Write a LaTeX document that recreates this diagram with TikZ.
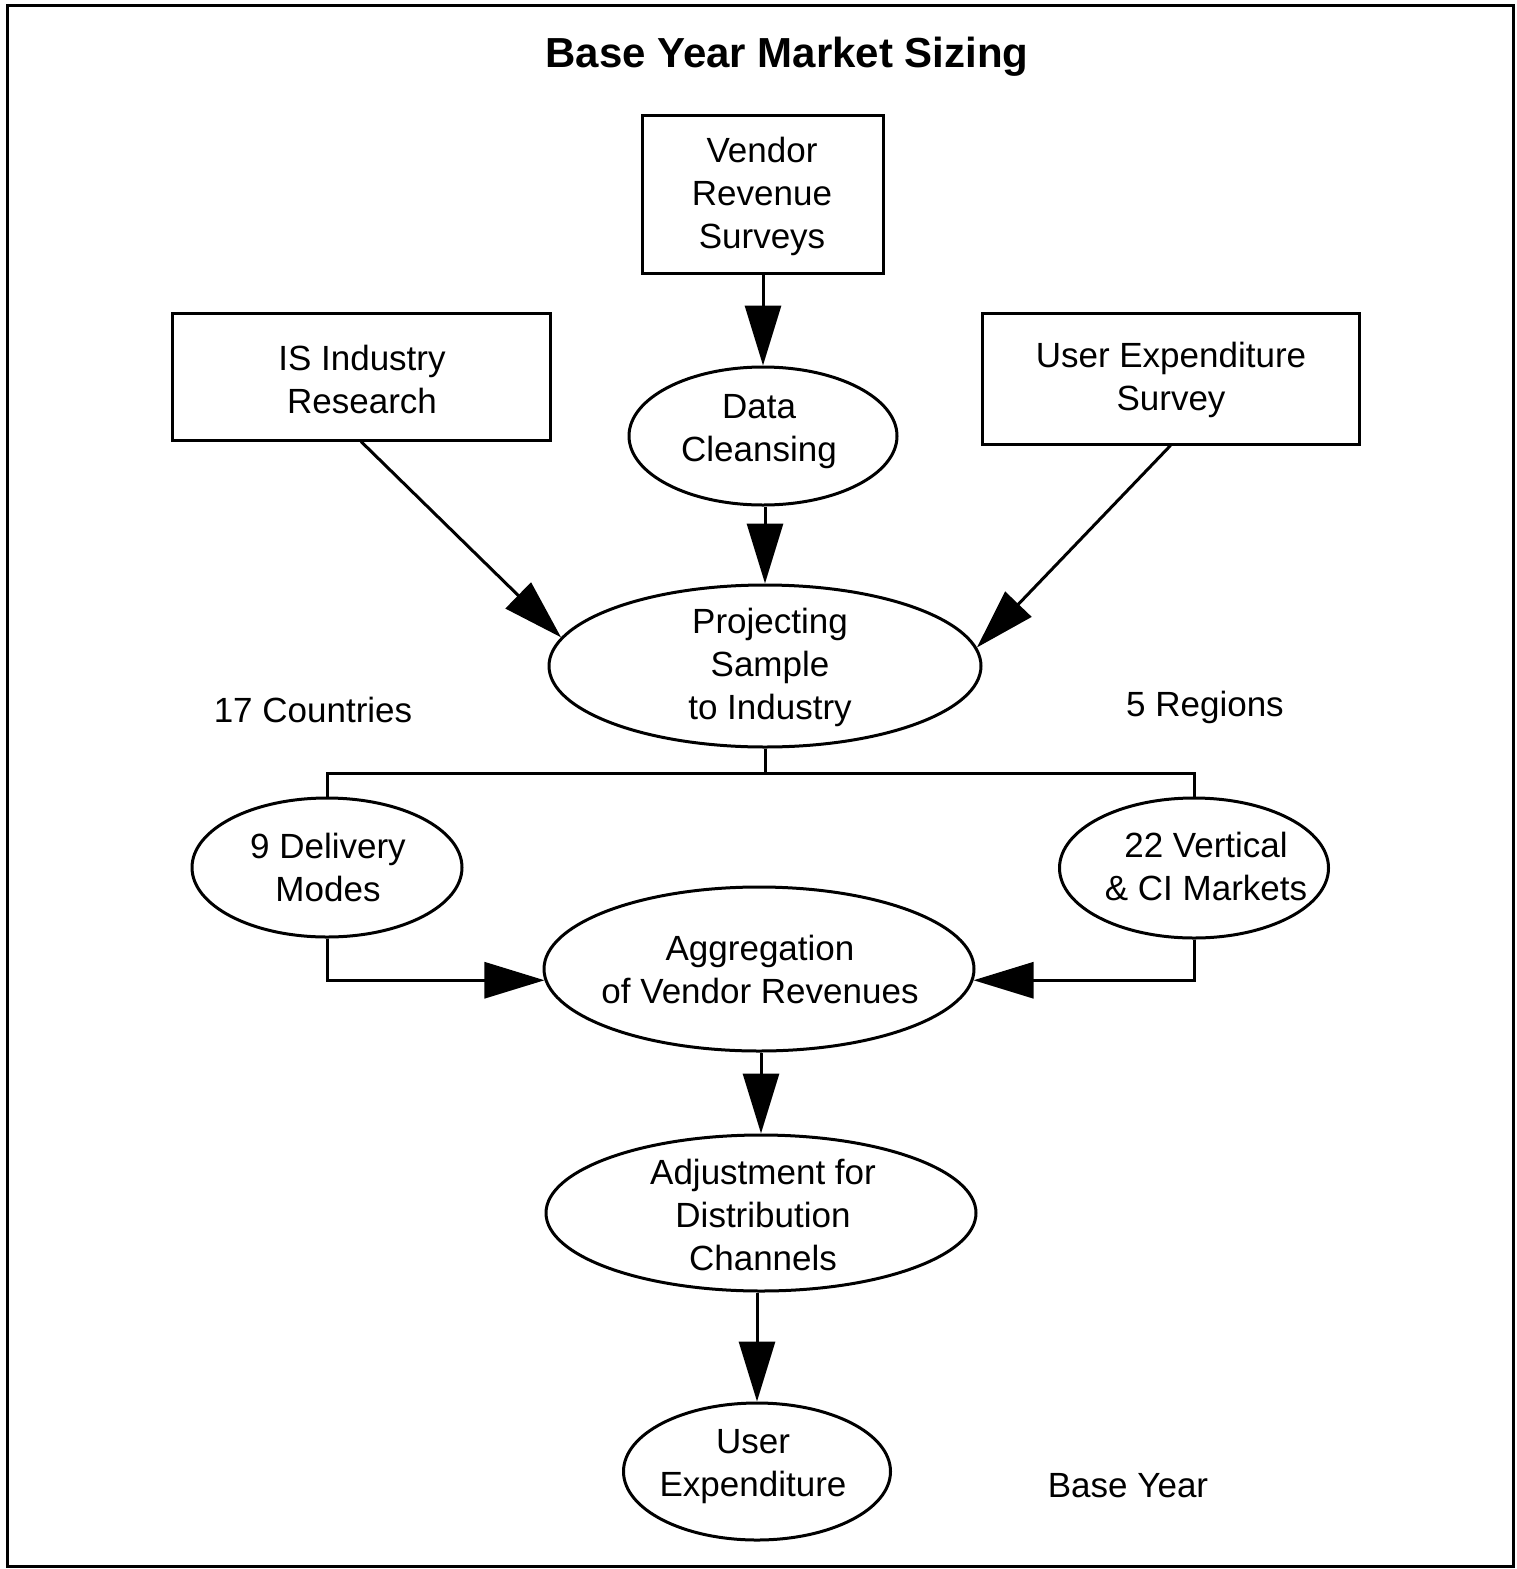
\documentclass[tikz,border=0pt]{standalone}
\usepackage{fontspec}
\setmainfont{Liberation Sans}
\usetikzlibrary{shapes.geometric,arrows.meta}
\begin{document}
\begin{tikzpicture}[x=0.5pt,y=-0.5pt,
  line width=1.5pt,
  txt/.style={font=\fontsize{17.5}{21.5}\selectfont, align=center, inner sep=0pt},
  boxn/.style={draw, rectangle, inner sep=0pt},
  ell/.style={draw, ellipse, inner sep=0pt},
  arr/.style={-{Triangle[length=30pt,width=18pt]}},
]
\useasboundingbox (0,0) rectangle (1516,1569);
\draw (7,5) rectangle (1513,1566);

\node[font=\fontsize{21}{24}\selectfont\bfseries, inner sep=0pt] (title) at (787,57) {Base Year Market Sizing};

% boxes
\node[boxn, minimum width=241pt*0.5, minimum height=158pt*0.5] (vend) at (762.5,194) {};
\node[txt] (vendt) at (762,196) {Vendor\\Revenue\\Surveys};
\node[boxn, minimum width=378pt*0.5, minimum height=127pt*0.5] (isr) at (361,376.5) {};
\node[txt] (isrt) at (362,379) {IS Industry\\Research};
\node[boxn, minimum width=377pt*0.5, minimum height=131pt*0.5] (ues) at (1170.5,378.5) {};
\node[txt] (uest) at (1171,380) {User Expenditure\\Survey};

% ellipses
\node[ell, minimum width=268pt*0.5, minimum height=138pt*0.5] (dc) at (763,436) {};
\node[txt] (dct) at (759,432) {Data\\Cleansing};
\node[ell, minimum width=432pt*0.5, minimum height=162pt*0.5] (proj) at (765,666) {};
\node[txt] (projt) at (770,667) {Projecting\\Sample\\to Industry};
\node[ell, minimum width=270pt*0.5, minimum height=139pt*0.5] (del) at (327,867.5) {};
\node[txt] (delt) at (328,867) {9 Delivery\\Modes};
\node[ell, minimum width=269pt*0.5, minimum height=140pt*0.5] (ver) at (1194,868) {};
\node[txt] (vert) at (1206,866) {22 Vertical\\\& CI Markets};
\node[ell, minimum width=430pt*0.5, minimum height=164pt*0.5] (agg) at (759,969) {};
\node[txt] (aggt) at (760,969) {Aggregation\\of Vendor Revenues};
\node[ell, minimum width=430pt*0.5, minimum height=156pt*0.5] (adj) at (761,1213) {};
\node[txt] (adjt) at (763,1215) {Adjustment for\\Distribution\\Channels};
\node[ell, minimum width=267pt*0.5, minimum height=137pt*0.5] (ue) at (757,1471.5) {};
\node[txt] (uet) at (753,1467) {User\\Expenditure};

% free labels
\node[txt] (c17) at (313,710) {17 Countries};
\node[txt] (r5) at (1205,707) {5 Regions};
\node[txt] (by) at (1128,1486) {Base Year};

% connectors
\draw[arr] (dc.north |- vend.south) -- (dc.north);
\draw[arr] (proj.north |- dc.south) -- (proj.north);
\draw[arr] (isr.south) -- (proj.172.7);
\draw[arr] (ues.south) -- (proj.5.7);

\coordinate (j) at (765,773);
\draw (proj.south) -- (j);
\draw (del.north) -- (del.north |- j) -- (ver.north |- j) -- (ver.north);

\draw[arr] (del.south) |- (agg.183);
\draw[arr] (ver.south) |- (agg.357);
\draw[arr] (adj.north |- agg.south) -- (adj.north);
\draw[arr] (ue.north |- adj.south) -- (ue.north);
\end{tikzpicture}
\end{document}
